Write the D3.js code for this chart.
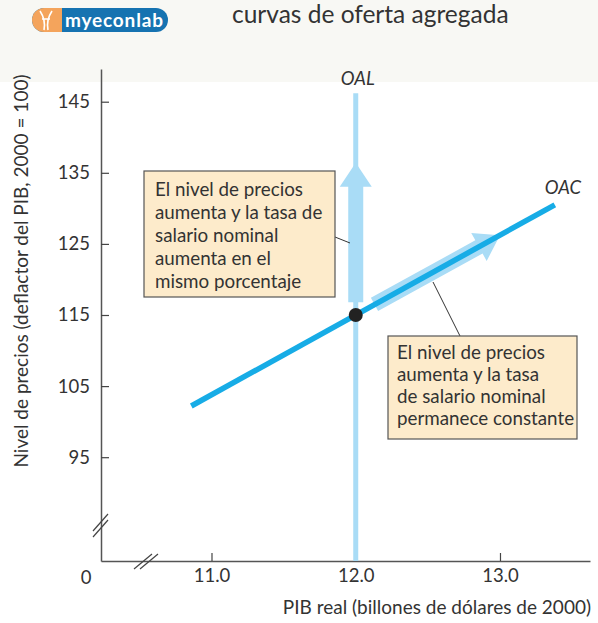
<!DOCTYPE html>
<html>
<head>
<meta charset="utf-8">
<script src="https://cdn.jsdelivr.net/npm/d3@7"></script>
<style>
  body { margin: 0; background: #fff; }
  svg { display: block; font-family: Lato, "Open Sans", sans-serif; }
</style>
</head>
<body>
<svg id="svg" width="598" height="623"></svg>
<script>
// values
var yTicks = [95, 105, 115, 125, 135, 145];
var xTicks = [11.0, 12.0, 13.0];

var oacGdp = [10.86, 13.38];
var oacPrice = [102.2, 130.5];

var oalGdp = [12.0, 12.0];
var oalPrice = [80.4, 146.2];

var eqGdp = [12.0];
var eqPrice = [115];

// thick arrows: first one up the OAL, second one along the OAC
var arrowGdp = [[12.0, 12.0], [12.13, 13.0]];
var arrowPrice = [[116.8, 136.4], [116.5, 126.2]];

var notes = [
  ["El nivel de precios", "aumenta y la tasa de", "salario nominal", "aumenta en el", "mismo porcentaje"],
  ["El nivel de precios", "aumenta y la tasa", "de salario nominal", "permanece constante"]
];

var width = 598, height = 623;
var margin = {top: 69, right: 8, bottom: 62, left: 101};

var svg = d3.select("#svg");

// header strip
svg.append("rect")
    .attr("x", 0).attr("y", 0)
    .attr("width", width).attr("height", 82)
    .attr("fill", "#f8f8f4");

var logo = svg.append("g");
logo.append("rect")
    .attr("x", 32).attr("y", 8).attr("width", 136).attr("height", 24)
    .attr("rx", 12).attr("fill", "#1673b1");
logo.append("path")
    .attr("d", "M62,8 H44 A12,12 0 0 0 44,32 H62 Z")
    .attr("fill", "#f4a45c");
logo.append("path")
    .attr("d", "M40,11 Q46,20 44,30 M52,11 Q46,20 48,30 M42,19 H50")
    .attr("stroke", "#fff").attr("stroke-width", 1.6).attr("fill", "none");
logo.append("text")
    .attr("x", 65).attr("y", 26.5)
    .attr("fill", "#fff")
    .attr("textLength", 98)
    .style("font-size", "19px")
    .style("font-weight", "bold")
    .text("myeconlab");

svg.append("text")
    .attr("x", 232).attr("y", 23)
    .attr("fill", "#333")
    .style("font-size", "24.5px")
    .text("curvas de oferta agregada");

var x = d3.scaleLinear()
    .domain([10.234, 13.624])
    .range([margin.left, width - margin.right]);

var y = d3.scaleLinear()
    .domain([80.4, 149.6])
    .range([height - margin.bottom, margin.top]);

// axes
var xAxis = svg.append("g")
    .attr("transform", "translate(0," + y(80.4) + ")")
    .call(d3.axisBottom(x).tickValues(xTicks).tickSize(-8).tickPadding(8).tickFormat(d3.format(".1f")).tickSizeOuter(0));

var yAxis = svg.append("g")
    .attr("transform", "translate(" + x(10.234) + ",0)")
    .call(d3.axisLeft(y).tickValues(yTicks).tickSize(-8).tickPadding(11).tickSizeOuter(0));

[xAxis, yAxis].forEach(function(g) {
  g.select(".domain").attr("stroke", "#555").attr("stroke-width", 1.5);
  g.selectAll(".tick line").attr("stroke", "#444").attr("stroke-width", 1.2);
  g.selectAll(".tick text")
      .attr("fill", "#333")
      .style("font-size", "18.5px")
      .style("font-family", "Lato, sans-serif");
});

svg.append("text")
    .attr("x", x(10.234) - 15).attr("y", y(80.4) + 23)
    .attr("text-anchor", "middle")
    .attr("fill", "#333")
    .style("font-size", "18.5px")
    .text("0");

// axis break marks
var breaks = svg.append("g").attr("stroke", "#444").attr("stroke-width", 1.2);
var by = y(80.4) - 36, bx = x(10.234) + 45, ax0 = y(80.4);
[-3, 3].forEach(function(o) {
  breaks.append("line")
      .attr("x1", x(10.234) - 8).attr("y1", by + 9 + o)
      .attr("x2", x(10.234) + 7).attr("y2", by - 8 + o);
  breaks.append("line")
      .attr("x1", bx - 9 + o).attr("y1", ax0 + 8)
      .attr("x2", bx + 9 + o).attr("y2", ax0 - 7);
});

// axis titles
svg.append("text")
    .attr("x", 591).attr("y", 614)
    .attr("text-anchor", "end")
    .attr("fill", "#333")
    .style("font-size", "19px")
    .text("PIB real (billones de dólares de 2000)");

svg.append("text")
    .attr("transform", "translate(28," + 271 + ") rotate(-90)")
    .attr("text-anchor", "middle")
    .attr("fill", "#333")
    .style("font-size", "19px")
    .text("Nivel de precios (deflactor del PIB, 2000 = 100)");

var line = d3.line()
    .x(function(d) { return x(d[0]); })
    .y(function(d) { return y(d[1]); });

// OAL
svg.append("path")
    .datum(d3.zip(oalGdp, oalPrice))
    .attr("d", line)
    .attr("stroke", "#a9dcf6")
    .attr("stroke-width", 5)
    .attr("fill", "none");

// thick arrows
function arrowShape(p0, p1, shaft, head, headLen) {
  var dx = p1[0] - p0[0], dy = p1[1] - p0[1];
  var len = Math.sqrt(dx * dx + dy * dy);
  var ux = dx / len, uy = dy / len, nx = -uy, ny = ux;
  var b = [p1[0] - ux * headLen, p1[1] - uy * headLen];
  var pts = [
    [p0[0] + nx * shaft / 2, p0[1] + ny * shaft / 2],
    [b[0] + nx * shaft / 2, b[1] + ny * shaft / 2],
    [b[0] + nx * head / 2, b[1] + ny * head / 2],
    p1,
    [b[0] - nx * head / 2, b[1] - ny * head / 2],
    [b[0] - nx * shaft / 2, b[1] - ny * shaft / 2],
    [p0[0] - nx * shaft / 2, p0[1] - ny * shaft / 2]
  ];
  return "M" + pts.join("L") + "Z";
}

svg.append("g")
  .selectAll("path")
  .data(d3.range(arrowGdp.length))
  .join("path")
    .attr("d", function(i) {
      var p0 = [x(arrowGdp[i][0]), y(arrowPrice[i][0])];
      var p1 = [x(arrowGdp[i][1]), y(arrowPrice[i][1])];
      return arrowShape(p0, p1, 15, 32, 24);
    })
    .attr("fill", "#a9dcf6");

// OAC
svg.append("path")
    .datum(d3.zip(oacGdp, oacPrice))
    .attr("d", line)
    .attr("stroke", "#17ace6")
    .attr("stroke-width", 5.5)
    .attr("fill", "none");

svg.append("g")
  .selectAll("circle")
  .data(d3.zip(eqGdp, eqPrice))
  .join("circle")
    .attr("cx", function(d) { return x(d[0]); })
    .attr("cy", function(d) { return y(d[1]); })
    .attr("r", 7)
    .attr("fill", "#222");

// curve labels
svg.append("text")
    .attr("x", x(oalGdp[1]) + 2).attr("y", 85)
    .attr("text-anchor", "middle")
    .attr("fill", "#333")
    .style("font-size", "18.5px")
    .style("font-style", "italic")
    .text("OAL");

svg.append("text")
    .attr("x", x(oacGdp[1]) + 8).attr("y", y(oacPrice[1]) - 11)
    .attr("text-anchor", "middle")
    .attr("fill", "#333")
    .style("font-size", "18.5px")
    .style("font-style", "italic")
    .text("OAC");

// notes with leader lines
var boxes = [
  {x: 144, y: 171, w: 191, h: 126, tx: 11, ty: 25, dy: 22.9, leader: [[335, 237], [350, 243]]},
  {x: 388, y: 336, w: 189, h: 103, tx: 9, ty: 23, dy: 22.1, leader: [[460, 336], [433, 282]]}
];

boxes.forEach(function(b, i) {
  svg.append("line")
      .attr("x1", b.leader[0][0]).attr("y1", b.leader[0][1])
      .attr("x2", b.leader[1][0]).attr("y2", b.leader[1][1])
      .attr("stroke", "#333").attr("stroke-width", 1);
  svg.append("rect")
      .attr("x", b.x).attr("y", b.y)
      .attr("width", b.w).attr("height", b.h)
      .attr("fill", "#fdebcb")
      .attr("stroke", "#555")
      .attr("stroke-width", 1.2);
  svg.append("text")
      .attr("fill", "#333")
      .style("font-size", "18.8px")
    .selectAll("tspan")
    .data(notes[i])
    .join("tspan")
      .attr("x", b.x + b.tx)
      .attr("y", function(d, j) { return b.y + b.ty + j * b.dy; })
      .text(function(d) { return d; });
});
</script>
</body>
</html>
